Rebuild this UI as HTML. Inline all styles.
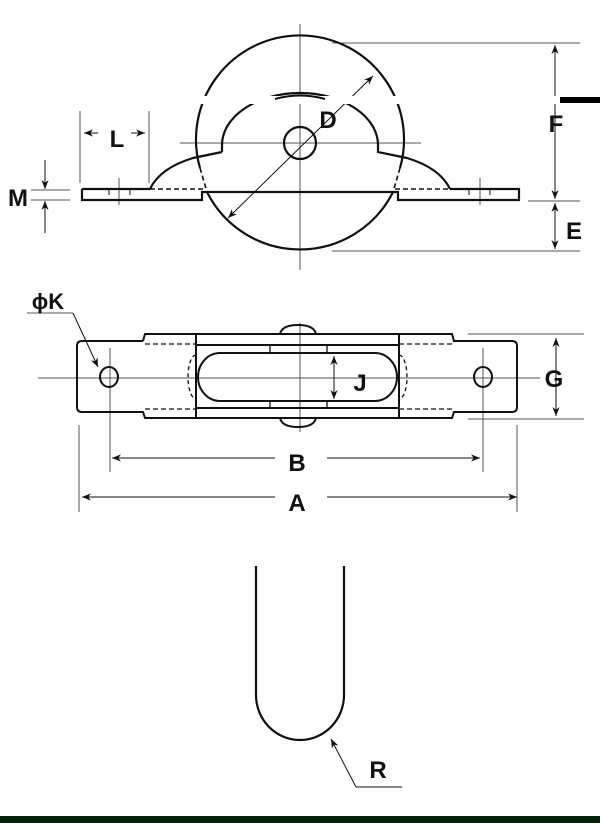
<!DOCTYPE html>
<html><head><meta charset="utf-8"><style>
html,body{margin:0;padding:0;background:#fff;}
svg{display:block;}
text{font-family:"Liberation Sans",Arial,sans-serif;font-weight:bold;fill:#111;}
</style></head><body>
<svg width="600" height="823" viewBox="0 0 600 823" xmlns="http://www.w3.org/2000/svg">
<defs>
<marker id="ar" viewBox="0 0 10 10" refX="10" refY="5" markerWidth="9" markerHeight="9" orient="auto-start-reverse" markerUnits="userSpaceOnUse"><path d="M0,1 L10,5 L0,9 L3,5 z" fill="#111"/></marker>
</defs>
<g fill="none" stroke="#111">
<!-- TOP VIEW -->
<g stroke="#555" stroke-width="1">
<line x1="300" y1="24" x2="300" y2="270"/>
<line x1="180" y1="143" x2="421" y2="143"/>
<line x1="332" y1="43" x2="580" y2="43"/>
<line x1="528" y1="201" x2="580" y2="201"/>
<line x1="332" y1="251" x2="580" y2="251"/>
<line x1="80" y1="111" x2="80" y2="183"/>
<line x1="149" y1="111" x2="149" y2="183"/>
<line x1="31" y1="190" x2="70" y2="190"/>
<line x1="31" y1="200" x2="70" y2="200"/>
<line x1="119" y1="178" x2="119" y2="205"/>
<line x1="480" y1="178" x2="480" y2="205"/>
</g>
<g stroke-width="1">
<line x1="555" y1="45" x2="555" y2="199" marker-start="url(#ar)" marker-end="url(#ar)"/>
<line x1="555" y1="203" x2="555" y2="249" marker-start="url(#ar)" marker-end="url(#ar)"/>
<line x1="98" y1="133" x2="84" y2="133" marker-end="url(#ar)"/>
<line x1="131" y1="133" x2="145" y2="133" marker-end="url(#ar)"/>
<line x1="45" y1="160" x2="45" y2="189" marker-end="url(#ar)"/>
<line x1="45" y1="233" x2="45" y2="201" marker-end="url(#ar)"/>
<line x1="373" y1="76" x2="228" y2="218" marker-start="url(#ar)" marker-end="url(#ar)"/>
</g>
<g stroke-width="2.2">
<!-- wheel circle upper part -->
<path d="M200,168 A104,104 0 1 1 400,168"/>
<path d="M207,192 A104,104 0 0 0 393,192"/>
<path d="M200,168 L207,192 M400,168 L393,192" stroke-dasharray="5,3" stroke-width="1.6"/>
<circle cx="300" cy="143" r="16"/>
<!-- inner arc and shoulders -->
<path d="M222,152 L222,145 A78,52 0 0 1 378,145 L378,152 L407,158 Q440,168 450,189"/>
<path d="M222,152 L193,158 Q160,168 150,189"/>
<!-- plate -->
<path d="M82,189 L150,189 M82,189 L82,200 L202,200 L202,192 L207,192 L393,192 L398,192 L398,200 L519,200 L519,189 L450,189"/>
<path d="M150,189 L205,189 M395,189 L450,189" stroke-dasharray="5,3" stroke-width="1.4"/>
</g>
<g stroke-width="1">
<line x1="109" y1="189" x2="109" y2="195"/><line x1="130" y1="189" x2="130" y2="195"/>
<line x1="469" y1="189" x2="469" y2="195"/><line x1="490" y1="189" x2="490" y2="195"/>
</g>
</g>
<!-- white band & black bar -->
<rect x="200" y="96" width="356" height="8" fill="#fff"/>
<rect x="560" y="97" width="40" height="6" fill="#000"/>
<path d="M275,99 Q300,92 325,99" fill="none" stroke="#111" stroke-width="2"/>
<text x="556" y="132" font-size="24" text-anchor="middle">F</text>
<text x="574" y="239" font-size="24" text-anchor="middle">E</text>
<text x="117" y="147" font-size="24" text-anchor="middle">L</text>
<text x="18" y="206" font-size="24" text-anchor="middle">M</text>
<text x="328" y="128" font-size="24" text-anchor="middle">D</text>

<!-- MIDDLE VIEW -->
<g fill="none" stroke="#111">
<g stroke="#555" stroke-width="1">
<line x1="38" y1="378" x2="540" y2="378"/>
<line x1="300" y1="323" x2="300" y2="432"/>
<line x1="468" y1="334" x2="584" y2="334"/>
<line x1="468" y1="419" x2="584" y2="419"/>
<line x1="110" y1="348" x2="110" y2="472"/>
<line x1="483" y1="348" x2="483" y2="472"/>
<line x1="79" y1="425" x2="79" y2="512"/>
<line x1="517" y1="425" x2="517" y2="512"/>
<line x1="27" y1="313" x2="73" y2="313"/>
</g>
<g stroke-width="1">
<line x1="556" y1="338" x2="556" y2="416" marker-start="url(#ar)" marker-end="url(#ar)"/>
<line x1="334" y1="356" x2="334" y2="399" marker-start="url(#ar)" marker-end="url(#ar)"/>
<line x1="112" y1="458" x2="275" y2="458" marker-start="url(#ar)"/>
<line x1="327" y1="458" x2="480" y2="458" marker-end="url(#ar)"/>
<line x1="82" y1="497" x2="275" y2="497" marker-start="url(#ar)"/>
<line x1="327" y1="497" x2="517" y2="497" marker-end="url(#ar)"/>
<line x1="73" y1="313" x2="98" y2="367" marker-end="url(#ar)"/>
</g>
<g stroke-width="2">
<path d="M143,341 L82,341 Q77,341 77,346 L77,407 Q77,412 82,412 L143,412 L145,418 L452,418 L454,412 L512,412 Q517,412 517,407 L517,346 Q517,341 512,341 L454,341 L452,334 L145,334 L143,341"/>
<line x1="196" y1="334" x2="196" y2="418"/>
<line x1="399" y1="334" x2="399" y2="418"/>
<line x1="196" y1="345" x2="399" y2="345"/>
<line x1="196" y1="408" x2="399" y2="408"/>
<path d="M220,353 L375,353 A22,24 0 0 1 375,401 L220,401 A22,24 0 0 1 220,353 Z"/>
<path d="M280,334 Q282,325 298,325 Q314,325 316,334 Z"/>
<path d="M280,418 Q282,427 298,427 Q314,427 316,418 Z"/>
<ellipse cx="109" cy="377" rx="9" ry="10"/>
<ellipse cx="483" cy="377" rx="9" ry="10"/>
</g>
<g stroke-width="1.3">
<line x1="270" y1="345" x2="270" y2="353"/><line x1="327" y1="345" x2="327" y2="353"/>
<line x1="270" y1="401" x2="270" y2="408"/><line x1="327" y1="401" x2="327" y2="408"/>
<path d="M145,344 L196,344 M145,409 L196,409 M399,344 L452,344 M399,409 L452,409" stroke-dasharray="5,3"/>
<path d="M196,355 A8,22 0 0 0 196,399 M399,355 A8,22 0 0 1 399,399" stroke-dasharray="4,3"/>
</g>
</g>
<text x="554" y="387" font-size="24" text-anchor="middle">G</text>
<text x="360" y="391" font-size="24" text-anchor="middle">J</text>
<text x="297" y="471" font-size="24" text-anchor="middle">B</text>
<text x="297" y="511" font-size="24" text-anchor="middle">A</text>
<text x="48" y="309" font-size="22" text-anchor="middle">ϕK</text>

<!-- BOTTOM U -->
<path d="M256,566 L256,695 A44,45 0 0 0 344,695 L344,566" fill="none" stroke="#111" stroke-width="2.2"/>
<line x1="356" y1="787" x2="331" y2="739" stroke="#111" stroke-width="1" marker-end="url(#ar)"/>
<line x1="356" y1="787" x2="402" y2="787" stroke="#111" stroke-width="1"/>
<text x="378" y="778" font-size="24" text-anchor="middle">R</text>
<rect x="0" y="816" width="600" height="7" fill="#06200a"/>
</svg>
</body></html>
